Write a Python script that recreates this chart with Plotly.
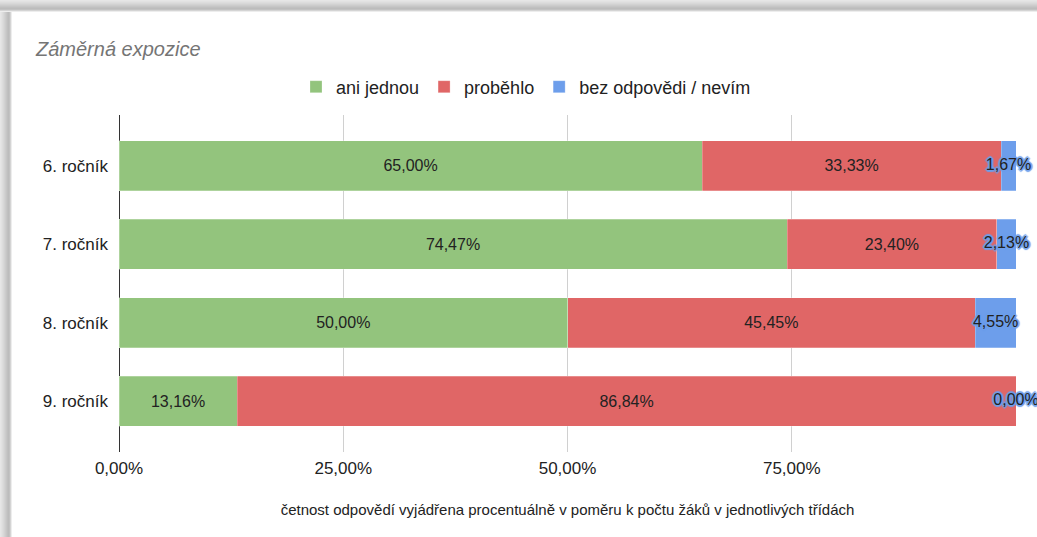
import plotly.graph_objects as go

# data
grades = ["6. ročník", "7. ročník", "8. ročník", "9. ročník"]
ani_jednou = [65.00, 74.47, 50.00, 13.16]
probehlo = [33.33, 23.40, 45.45, 86.84]
bez_odpovedi = [1.67, 2.13, 4.55, 0.00]

x_ticks = [0, 25, 50, 75, 100]
x_tick_labels = ["0,00%", "25,00%", "50,00%", "75,00%", ""]

GREEN = "#93c47d"
RED = "#e06666"
BLUE = "#6d9eeb"

W, H = 1037, 537
L, R, T, B = 119, 21, 115, 85
PW, PH = W - L - R, H - T - B


def fmt(v):
    return f"{v:.2f}".replace(".", ",") + "%"


def px_x(p):
    return (p - L) / PW


def px_y(p):
    return (H - B - p) / PH


fig = go.Figure()
for name, vals, color, show_text in [
    ("ani jednou", ani_jednou, GREEN, True),
    ("proběhlo", probehlo, RED, True),
    ("bez odpovědi / nevím", bez_odpovedi, BLUE, False),
]:
    fig.add_trace(go.Bar(
        y=grades,
        x=vals,
        name=name,
        orientation="h",
        marker=dict(color=color, line=dict(color="rgba(255,255,255,0.5)", width=0.5)),
        text=[fmt(v) for v in vals] if show_text else None,
        textposition="inside",
        insidetextanchor="middle",
        constraintext="none",
        textfont=dict(color="#222222", size=16),
        hoverinfo="skip",
    ))

# small blue labels spill over the bar end, so draw them as a text layer
blue_mid = [g + r + b / 2 for g, r, b in zip(ani_jednou, probehlo, bez_odpovedi)]
offsets = [(-1, -1), (1, -1), (-1, 1), (1, 1), (0, 2), (2, 0), (-2, 0), (0, -2)]
halo = ", ".join(f"{dx}px {dy}px 1px {BLUE}" for dx, dy in offsets)
fig.add_trace(go.Scatter(
    x=blue_mid,
    y=grades,
    mode="text",
    text=[fmt(v) for v in bez_odpovedi],
    textposition="middle center",
    textfont=dict(color="#222222", size=16, shadow=halo),
    showlegend=False,
    cliponaxis=False,
    hoverinfo="skip",
))

# grey screenshot frame on the top and left edge
shades = ["#e6e6e6", "#e2e2e2", "#dddddd", "#d8d8d8", "#d2d2d2", "#cccccc",
          "#c6c6c6", "#c0c0c0", "#bcbcbc", "#c2c2c2", "#d4d4d4", "#ededed"]
shapes = []
for i, c in enumerate(shades):
    shapes.append(dict(type="rect", xref="paper", yref="paper", layer="below",
                       x0=px_x(0), x1=px_x(W), y0=px_y(i + 1), y1=px_y(i),
                       fillcolor=c, line=dict(width=0)))
    shapes.append(dict(type="rect", xref="paper", yref="paper", layer="below",
                       x0=px_x(i), x1=px_x(i + 1), y0=px_y(H), y1=px_y(i),
                       fillcolor=c, line=dict(width=0)))

fig.update_layout(
    width=W,
    height=H,
    barmode="stack",
    bargap=0.364,
    paper_bgcolor="white",
    plot_bgcolor="rgba(0,0,0,0)",
    font=dict(family="Liberation Sans, Arial, sans-serif", color="#222222"),
    margin=dict(l=L, r=R, t=T, b=B, autoexpand=False),
    title=dict(
        text="Záměrná expozice",
        x=36 / W, xref="container", xanchor="left",
        y=1 - 49 / H, yref="container", yanchor="middle",
        font=dict(size=20, style="italic", color="#757575"),
    ),
    legend=dict(
        orientation="h",
        x=px_x(526), xanchor="center",
        y=px_y(87), yanchor="middle",
        font=dict(size=18, color="#222222"),
        traceorder="normal",
    ),
    xaxis=dict(
        range=[0, 100],
        tickvals=x_ticks,
        ticktext=x_tick_labels,
        showgrid=True,
        gridcolor="#d0d0d0",
        zeroline=True,
        zerolinecolor="#333333",
        zerolinewidth=1,
        tickfont=dict(size=17, color="#222222"),
        ticks="",
        ticklabelstandoff=4,
        title=dict(
            text="četnost odpovědí vyjádřena procentuálně v poměru k počtu žáků v jednotlivých třídách",
            font=dict(size=15, color="#222222"),
            standoff=27,
        ),
        fixedrange=True,
    ),
    yaxis=dict(
        categoryorder="array",
        categoryarray=grades,
        range=[3.645, -0.645],
        tickfont=dict(size=17, color="#222222"),
        ticks="",
        ticklabelstandoff=10,
        showgrid=False,
        fixedrange=True,
    ),
    shapes=shapes,
)

fig.write_html(
    "out.html",
    config={"displayModeBar": False},
    post_script="document.body.style.margin = '0px';",
)
